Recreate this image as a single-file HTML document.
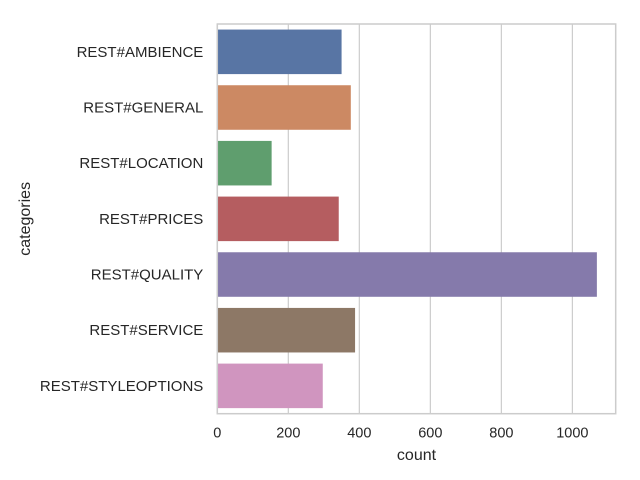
<!DOCTYPE html>
<html><head><meta charset="utf-8"><style>body{margin:0;background:#fff}svg{display:block}text{font-family:"Liberation Sans",sans-serif;fill:#262626}</style></head>
<body><svg id="c" width="640" height="480"></svg>
<script>
const categories=["REST#AMBIENCE","REST#GENERAL","REST#LOCATION","REST#PRICES","REST#QUALITY","REST#SERVICE","REST#STYLEOPTIONS"];
const counts=[350,376,153,342,1069,388,297];
const xTicks=[0,200,400,600,800,1000];
const colors=["#5875a4","#cc8963","#5f9e6e","#b55d60","#857aab","#8d7866","#d095bf"];
const NS="http://www.w3.org/2000/svg",svg=document.getElementById("c");
const L=217.3,R=615.7,T=24,B=413.7,XMAX=1122;
const x=v=>L+v/XMAX*(R-L);
const band=(B-T)/categories.length;
function mk(t,a,p){const e=document.createElementNS(NS,t);for(const k in a)e.setAttribute(k,a[k]);(p||svg).appendChild(e);return e;}
xTicks.forEach(v=>{
const g=mk("line",{x1:x(v),x2:x(v),y1:T,y2:B,stroke:"#cccccc","stroke-width":1.2});


const t=mk("text",{x:x(v),y:B+24,"text-anchor":"middle","font-size":14.5});
t.textContent=v;


});
categories.forEach((c,i)=>{
const yc=T+band*(i+0.5),h=band*0.8;
const r=mk("rect",{x:L,y:yc-h/2,width:x(counts[i])-L,height:h,fill:colors[i]});


const t=mk("text",{x:L-14,y:yc+5,"text-anchor":"end","font-size":15});
t.textContent=c;


});
const f=mk("rect",{x:L,y:T,width:R-L,height:B-T,fill:"none",stroke:"#cccccc","stroke-width":1.5});


const xt=mk("text",{x:(L+R)/2,y:460,"text-anchor":"middle","font-size":16});
xt.textContent="count";


const yt=mk("text",{x:0,y:0,"text-anchor":"middle","font-size":16,transform:"translate(30,"+((T+B)/2)+") rotate(-90)"});
yt.textContent="categories";


</script></body></html>
